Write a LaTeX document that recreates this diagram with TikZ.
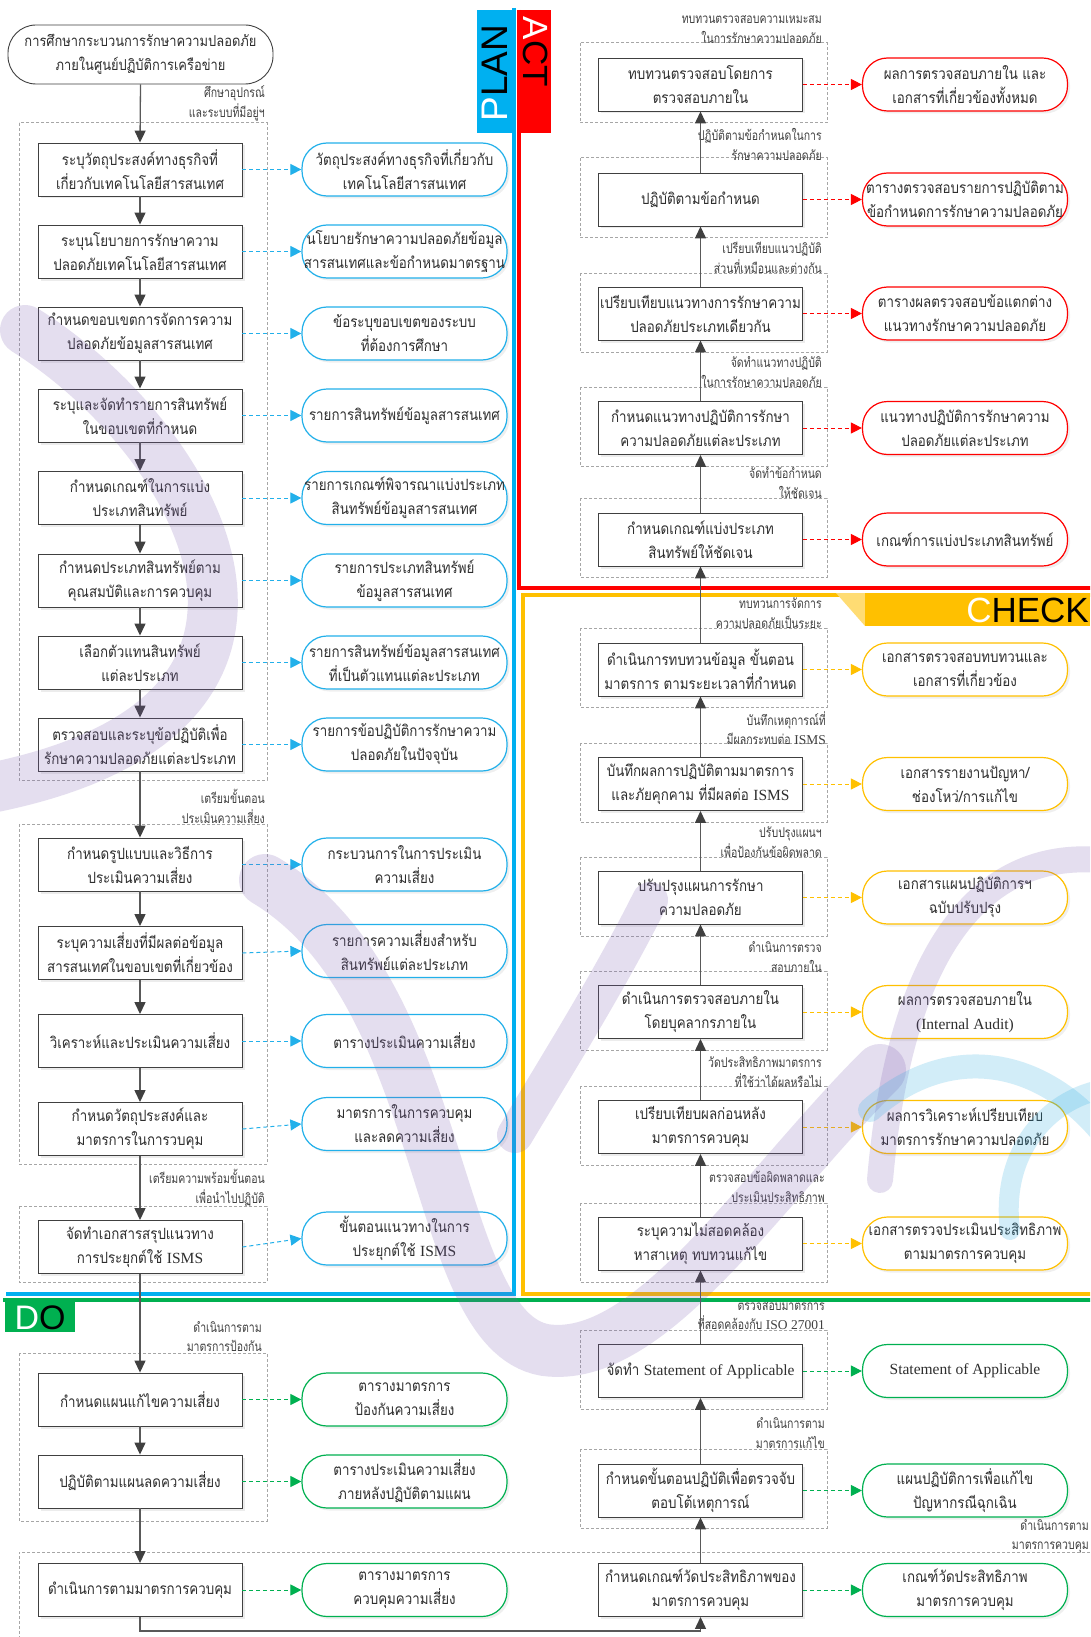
\documentclass[tikz,border=0pt]{standalone}
\usepackage{fontspec}
\setmainfont{Liberation Serif}
\newfontfamily\thf[Script=Thai,FakeStretch=0.86]{Loma}
\newfontfamily\thl[Script=Thai,FakeStretch=0.78]{Loma}
\newfontfamily\lat{Liberation Serif}
\newfontfamily\sansf{Liberation Sans}
\usetikzlibrary{arrows.meta,shadows}

\definecolor{boxline}{HTML}{404040}
\definecolor{bodytext}{HTML}{2E2E2E}
\definecolor{flowgray}{HTML}{595959}
\definecolor{grpgray}{HTML}{A6A6A6}
\definecolor{lbltext}{HTML}{404040}
\definecolor{planblue}{HTML}{00B0F0}
\definecolor{pillblue}{HTML}{22B0EA}
\definecolor{actred}{HTML}{FF0000}
\definecolor{chkyellow}{HTML}{FFC000}
\definecolor{dogreen}{HTML}{00B050}
\definecolor{wmpurple}{HTML}{7B5BB0}
\definecolor{wmcyan}{HTML}{1EA8E0}

\begin{document}
\begin{tikzpicture}[x=1pt,y=-1pt,
  txt/.style={font=\thf\fontsize{15.5}{24}\selectfont, text=bodytext},
  stepbox/.style={txt, draw=boxline, line width=0.9pt, fill=white,
    minimum width=204pt, minimum height=53pt, inner sep=0pt, align=center,
    drop shadow={shadow xshift=2.5pt,shadow yshift=-2.5pt,opacity=0.15}},
  termbox/.style={font=\thf\fontsize{15}{24}\selectfont, text=bodytext,
    draw=boxline, line width=0.9pt, fill=white,
    rounded corners=28pt, minimum width=265pt, minimum height=59pt,
    inner sep=0pt, align=center},
  pill/.style={txt, draw=#1, line width=1.2pt, fill=white, rounded corners=25pt,
    minimum width=205pt, minimum height=53pt, inner sep=0pt, align=center,
    drop shadow={shadow xshift=2.5pt,shadow yshift=-2.5pt,opacity=0.12}},
  grp/.style={draw=grpgray, line width=1pt, dash pattern=on 3pt off 2pt},
  flow/.style={draw=flowgray, line width=1.3pt,
    -{Triangle[length=12pt,width=11pt,color=boxline]}},
  out/.style={draw=#1, line width=1pt, dash pattern=on 4pt off 3pt,
    -{Triangle[length=11pt,width=11pt,color=#1]}},
  lbl/.style={font=\thl\fontsize{13.5}{19.5}\selectfont, text=lbltext,
    align=right, anchor=east, inner sep=0pt},
  tag/.style={font=\sansf\fontsize{#1}{#1}\selectfont, inner sep=0pt}
]
\useasboundingbox (0,0) rectangle (1090,1637);
\fill[white] (0,0) rectangle (1090,1637);
\clip (0,0) rectangle (1090,1637);

% ---------- PDCA frames and tags ----------
\draw[line width=4pt, planblue] (514,8) -- (514,1294) -- (6,1294);
\draw[line width=4pt, actred] (518.5,10) -- (518.5,588) -- (1095,588);
\draw[line width=4pt, chkyellow] (1095,595) -- (522.5,595) -- (522.5,1294) -- (1095,1294);
\draw[line width=4pt, dogreen] (3,1300) -- (1095,1300);

\fill[planblue] (477,10) rectangle (512,133);
\node[tag=37, rotate=90] (plan) at (494.5,73) {\textcolor{white}{P}LAN};
\fill[actred] (520,10) rectangle (551,133);
\node[tag=35, rotate=-90] (act) at (536,52) {\textcolor{white}{A}CT};
\fill[chkyellow!55] (836,593) -- (865,593) -- (865,626) -- cycle;
\fill[chkyellow] (865,593) rectangle (1090,626);
\node[tag=35, anchor=east] (check) at (1089,610) {\textcolor{white}{C}HECK};
\fill[dogreen] (5,1302) rectangle (75,1332);
\node[tag=34] (do) at (40,1318) {\textcolor{white}{D}O};

% ---------- dashed groups ----------
\draw[grp] (19,123) rectangle (267,780);
\draw[grp] (19,824) rectangle (267,1164);
\draw[grp] (19,1206) rectangle (267,1282);
\draw[grp] (19,1353) rectangle (267,1521);
\draw[grp] (1100,1552) -- (19,1552) -- (19,1650);
\foreach \t/\b in {43/123,158/238,273/352,387/466,498/577,628/707,743/822,857/936,971/1050,1086/1165,1203/1282,1330/1409,1449/1528}
  \draw[grp] (580,\t) rectangle (827,\b);

% ---------- left column: PLAN / DO ----------
\node[termbox] (t) at (140.5,54.5) {การศึกษากระบวนการรักษาความปลอดภัย\\ภายในศูนย์ปฏิบัติการเครือข่าย};

\node[stepbox] (b1) at (140,169.5) {ระบุวัตถุประสงค์ทางธุรกิจที่\\เกี่ยวกับเทคโนโลยีสารสนเทศ};
\node[stepbox] (b2) at (140,251.5) {ระบุนโยบายการรักษาความ\\ปลอดภัยเทคโนโลยีสารสนเทศ};
\node[stepbox] (b3) at (140,333.5) {กำหนดขอบเขตการจัดการความ\\ปลอดภัยข้อมูลสารสนเทศ};
\node[stepbox] (b4) at (140,415.5) {ระบุและจัดทำรายการสินทรัพย์\\ในขอบเขตที่กำหนด};
\node[stepbox] (b5) at (140,498) {กำหนดเกณฑ์ในการแบ่ง\\ประเภทสินทรัพย์};
\node[stepbox] (b6) at (140,580.5) {กำหนดประเภทสินทรัพย์ตาม\\คุณสมบัติและการควบคุม};
\node[stepbox] (b7) at (140,662.5) {เลือกตัวแทนสินทรัพย์\\แต่ละประเภท};
\node[stepbox] (b8) at (140,744.5) {ตรวจสอบและระบุข้อปฏิบัติเพื่อ\\รักษาความปลอดภัยแต่ละประเภท};
\node[stepbox] (b9) at (140,864.5) {กำหนดรูปแบบและวิธีการ\\ประเมินความเสี่ยง};
\node[stepbox] (b10) at (140,953) {ระบุความเสี่ยงที่มีผลต่อข้อมูล\\สารสนเทศในขอบเขตที่เกี่ยวข้อง};
\node[stepbox] (b11) at (140,1041) {วิเคราะห์และประเมินความเสี่ยง};
\node[stepbox] (b12) at (140,1129) {กำหนดวัตถุประสงค์และ\\มาตรการในการวบคุม};
\node[stepbox] (b13) at (140,1247) {จัดทำเอกสารสรุปแนวทาง\\การประยุกต์ใช้ {\lat ISMS}};
\node[stepbox] (dl1) at (140,1399.5) {กำหนดแผนแก้ไขความเสี่ยง};
\node[stepbox] (dl2) at (140,1481.5) {ปฏิบัติตามแผนลดความเสี่ยง};
\node[stepbox] (dl3) at (140,1590) {ดำเนินการตามมาตรการควบคุม};

\node[pill=pillblue] (e1) at (404.5,169.5) {วัตถุประสงค์ทางธุรกิจที่เกี่ยวกับ\\เทคโนโลยีสารสนเทศ};
\node[pill=pillblue] (e2) at (404.5,251.5) {นโยบายรักษาความปลอดภัยข้อมูล\\สารสนเทศและข้อกำหนดมาตรฐาน};
\node[pill=pillblue] (e3) at (404.5,333.5) {ข้อระบุขอบเขตของระบบ\\ที่ต้องการศึกษา};
\node[pill=pillblue] (e4) at (404.5,415.5) {รายการสินทรัพย์ข้อมูลสารสนเทศ};
\node[pill=pillblue] (e5) at (404.5,498) {รายการเกณฑ์พิจารณาแบ่งประเภท\\สินทรัพย์ข้อมูลสารสนเทศ};
\node[pill=pillblue] (e6) at (404.5,580.5) {รายการประเภทสินทรัพย์\\ข้อมูลสารสนเทศ};
\node[pill=pillblue] (e7) at (404.5,662.5) {รายการสินทรัพย์ข้อมูลสารสนเทศ\\ที่เป็นตัวแทนแต่ละประเภท};
\node[pill=pillblue] (e8) at (404.5,744.5) {รายการข้อปฏิบัติการรักษาความ\\ปลอดภัยในปัจจุบัน};
\node[pill=pillblue] (e9) at (404.5,864.5) {กระบวนการในการประเมิน\\ความเสี่ยง};
\node[pill=pillblue] (e10) at (404.5,951) {รายการความเสี่ยงสำหรับ\\สินทรัพย์แต่ละประเภท};
\node[pill=pillblue] (e11) at (404.5,1041) {ตารางประเมินความเสี่ยง};
\node[pill=pillblue] (e12) at (404.5,1124) {มาตรการในการควบคุม\\และลดความเสี่ยง};
\node[pill=pillblue] (e13) at (404.5,1238.5) {ขั้นตอนแนวทางในการ\\ประยุกต์ใช้ {\lat ISMS}};
\node[pill=dogreen] (edl1) at (404.5,1399.5) {ตารางมาตรการ\\ป้องกันความเสี่ยง};
\node[pill=dogreen] (edl2) at (404.5,1481.5) {ตารางประเมินความเสี่ยง\\ภายหลังปฏิบัติตามแผน};
\node[pill=dogreen] (edl3) at (404.5,1590) {ตารางมาตรการ\\ควบคุมความเสี่ยง};

\node[lbl] (l1) at (265,103.5) {ศึกษาอุปกรณ์\\และระบบที่มีอยู่ฯ};
\node[lbl] (l2) at (265,806.5) {เตรียมขั้นตอน\\ประเมินความเสี่ยง};
\node[lbl] (l3) at (265,1187.5) {เตรียมความพร้อมขั้นตอน\\เพื่อนำไปปฏิบัติ};
\node[lbl] (l4) at (262,1336.5) {ดำเนินการตาม\\มาตรการป้องกัน};

% left flow
\draw[flow] (t.south) -- (b1.north);
\foreach \a/\b in {b1/b2,b2/b3,b3/b4,b4/b5,b5/b6,b6/b7,b7/b8,b8/b9,b9/b10,b10/b11,b11/b12,b12/b13,b13/dl1,dl1/dl2,dl2/dl3}
  \draw[flow] (\a.south) -- (\b.north);
\foreach \a/\b in {b1/e1,b2/e2,b3/e3,b4/e4,b5/e5,b6/e6,b7/e7,b8/e8,b9/e9,b10/e10,b11/e11,b12/e12,b13/e13}
  \draw[out=pillblue] (\a.east) -- (\b.west);
\foreach \a/\b in {dl1/edl1,dl2/edl2,dl3/edl3}
  \draw[out=dogreen] (\a.east) -- (\b.west);

% ---------- right column: ACT / CHECK / DO ----------
\node[stepbox] (a1) at (700.5,84.5) {ทบทวนตรวจสอบโดยการ\\ตรวจสอบภายใน};
\node[stepbox] (a2) at (700.5,199.5) {ปฏิบัติตามข้อกำหนด};
\node[stepbox] (a3) at (700.5,313.5) {เปรียบเทียบแนวทางการรักษาความ\\ปลอดภัยประเภทเดียวกัน};
\node[stepbox] (a4) at (700.5,428) {กำหนดแนวทางปฏิบัติการรักษา\\ความปลอดภัยแต่ละประเภท};
\node[stepbox] (a5) at (700.5,539.5) {กำหนดเกณฑ์แบ่งประเภท\\สินทรัพย์ให้ชัดเจน};
\node[stepbox] (c1) at (700.5,669.5) {ดำเนินการทบทวนข้อมูล ขั้นตอน\\มาตรการ ตามระยะเวลาที่กำหนด};
\node[stepbox] (c2) at (700.5,784) {บันทึกผลการปฏิบัติตามมาตรการ\\และภัยคุกคาม ที่มีผลต่อ {\lat ISMS}};
\node[stepbox] (c3) at (700.5,897.5) {ปรับปรุงแผนการรักษา\\ความปลอดภัย};
\node[stepbox] (c4) at (700.5,1012) {ดำเนินการตรวจสอบภายใน\\โดยบุคลากรภายใน};
\node[stepbox] (c5) at (700.5,1127) {เปรียบเทียบผลก่อนหลัง\\มาตรการควบคุม};
\node[stepbox] (c6) at (700.5,1243.5) {ระบุความไม่สอดคล้อง\\หาสาเหตุ ทบทวนแก้ไข};
\node[stepbox] (dr1) at (700.5,1371) {จัดทำ {\lat Statement of Applicable}};
\node[stepbox] (dr2) at (700.5,1490.5) {กำหนดขั้นตอนปฏิบัติเพื่อตรวจจับ\\ตอบโต้เหตุการณ์};
\node[stepbox] (dr3) at (700.5,1590) {กำหนดเกณฑ์วัดประสิทธิภาพของ\\มาตรการควบคุม};

\node[pill=actred] (ea1) at (965,84.5) {ผลการตรวจสอบภายใน และ\\เอกสารที่เกี่ยวข้องทั้งหมด};
\node[pill=actred] (ea2) at (965,199.5) {ตารางตรวจสอบรายการปฏิบัติตาม\\ข้อกำหนดการรักษาความปลอดภัย};
\node[pill=actred] (ea3) at (965,313.5) {ตารางผลตรวจสอบข้อแตกต่าง\\แนวทางรักษาความปลอดภัย};
\node[pill=actred] (ea4) at (965,428) {แนวทางปฏิบัติการรักษาความ\\ปลอดภัยแต่ละประเภท};
\node[pill=actred] (ea5) at (965,539.5) {เกณฑ์การแบ่งประเภทสินทรัพย์};
\node[pill=chkyellow] (ec1) at (965,669.5) {เอกสารตรวจสอบทบทวนและ\\เอกสารที่เกี่ยวข้อง};
\node[pill=chkyellow] (ec2) at (965,784) {เอกสารรายงานปัญหา/\\ช่องโหว่/การแก้ไข};
\node[pill=chkyellow] (ec3) at (965,897.5) {เอกสารแผนปฏิบัติการฯ\\ฉบับปรับปรุง};
\node[pill=chkyellow] (ec4) at (965,1012) {ผลการตรวจสอบภายใน\\{\lat (Internal Audit)}};
\node[pill=chkyellow] (ec5) at (965,1127) {ผลการวิเคราะห์เปรียบเทียบ\\มาตรการรักษาความปลอดภัย};
\node[pill=chkyellow] (ec6) at (965,1243.5) {เอกสารตรวจประเมินประสิทธิภาพ\\ตามมาตรการควบคุม};
\node[pill=dogreen] (edr1) at (965,1371) {{\lat Statement of Applicable}};
\node[pill=dogreen] (edr2) at (965,1490.5) {แผนปฏิบัติการเพื่อแก้ไข\\ปัญหากรณีฉุกเฉิน};
\node[pill=dogreen] (edr3) at (965,1590) {เกณฑ์วัดประสิทธิภาพ\\มาตรการควบคุม};

\node[lbl] (r1) at (822,29.5) {ทบทวนตรวจสอบความเหมะสม\\ในการรักษาความปลอดภัย};
\node[lbl] (r2) at (822,144.5) {ปฏิบัติตามข้อกำหนดในการ\\รักษาความปลอดภัย};
\node[lbl] (r3) at (822,258) {เปรียบเทียบแนวปฏิบัติ\\ส่วนที่เหมือนและต่างกัน};
\node[lbl] (r4) at (822,372) {จัดทำแนวทางปฏิบัติ\\ในการรักษาความปลอดภัย};
\node[lbl] (r5) at (822,483) {จัดทำข้อกำหนด\\ให้ชัดเจน};
\node[lbl] (r6) at (822,613) {ทบทวนการจัดการ\\ความปลอดภัยเป็นระยะ};
\node[lbl] (r7) at (826,728) {บันทึกเหตุการณ์ที่\\มีผลกระทบต่อ {\lat ISMS}};
\node[lbl] (r8) at (822,842) {ปรับปรุงแผนฯ\\เพื่อป้องกันข้อผิดพลาด};
\node[lbl] (r9) at (822,957) {ดำเนินการตรวจ\\สอบภายใน};
\node[lbl] (r10) at (822,1072) {วัดประสิทธิภาพมาตรการ\\ที่ใช้ว่าได้ผลหรือไม่};
\node[lbl] (r11) at (825,1187) {ตรวจสอบข้อผิดพลาดและ\\ประเมินประสิทธิภาพ};
\node[lbl] (r12) at (825,1316) {ตรวจสอบมาตรการ\\ที่สอดคล้องกับ {\lat ISO 27001}};
\node[lbl] (r13) at (825,1433) {ดำเนินการตาม\\มาตรการแก้ไข};
\node[lbl] (r14) at (1089,1536) {ดำเนินการตาม\\มาตรการควบคุม};

% right flow (upwards)
\foreach \a/\b in {a2/a1,a3/a2,a4/a3,a5/a4,c1/a5,c2/c1,c3/c2,c4/c3,c5/c4,c6/c5,dr1/c6,dr2/dr1,dr3/dr2}
  \draw[flow] (\a.north) -- (\b.south);
\foreach \a/\b in {a1/ea1,a2/ea2,a3/ea3,a4/ea4,a5/ea5}
  \draw[out=actred] (\a.east) -- (\b.west);
\foreach \a/\b in {c1/ec1,c2/ec2,c3/ec3,c4/ec4,c5/ec5,c6/ec6}
  \draw[out=chkyellow] (\a.east) -- (\b.west);
\foreach \a/\b in {dr1/edr1,dr2/edr2,dr3/edr3}
  \draw[out=dogreen] (\a.east) -- (\b.west);

% bottom link from the DO side to the measurement step
\draw[flow] (dl3.south) -- ++(0,14) -| (dr3.south);

% ---------- faint logo strokes across the sheet ----------
\begin{scope}[opacity=0.2, line cap=round]
  \draw[wmpurple, line width=50pt] (25,330) .. controls (200,440) and (360,720) .. (-20,790);
  \draw[wmpurple, line width=52pt] (265,880) .. controls (450,990) and (430,1330) .. (545,1350)
        .. controls (650,1365) and (760,1190) .. (880,1070);
  \draw[wmpurple, line width=36pt] (650,900) .. controls (610,980) and (560,1060) .. (515,1135);
  \draw[wmpurple, line width=26pt] (880,1180) .. controls (900,950) and (980,850) .. (1100,860);
  \draw[wmcyan, line width=24pt] (870,1110) .. controls (950,1040) and (1040,1060) .. (1100,1130);
  \draw[wmcyan, line width=20pt] (1010,1230) .. controls (1000,1150) and (1050,1100) .. (1100,1090);
\end{scope}
\end{tikzpicture}
\end{document}
